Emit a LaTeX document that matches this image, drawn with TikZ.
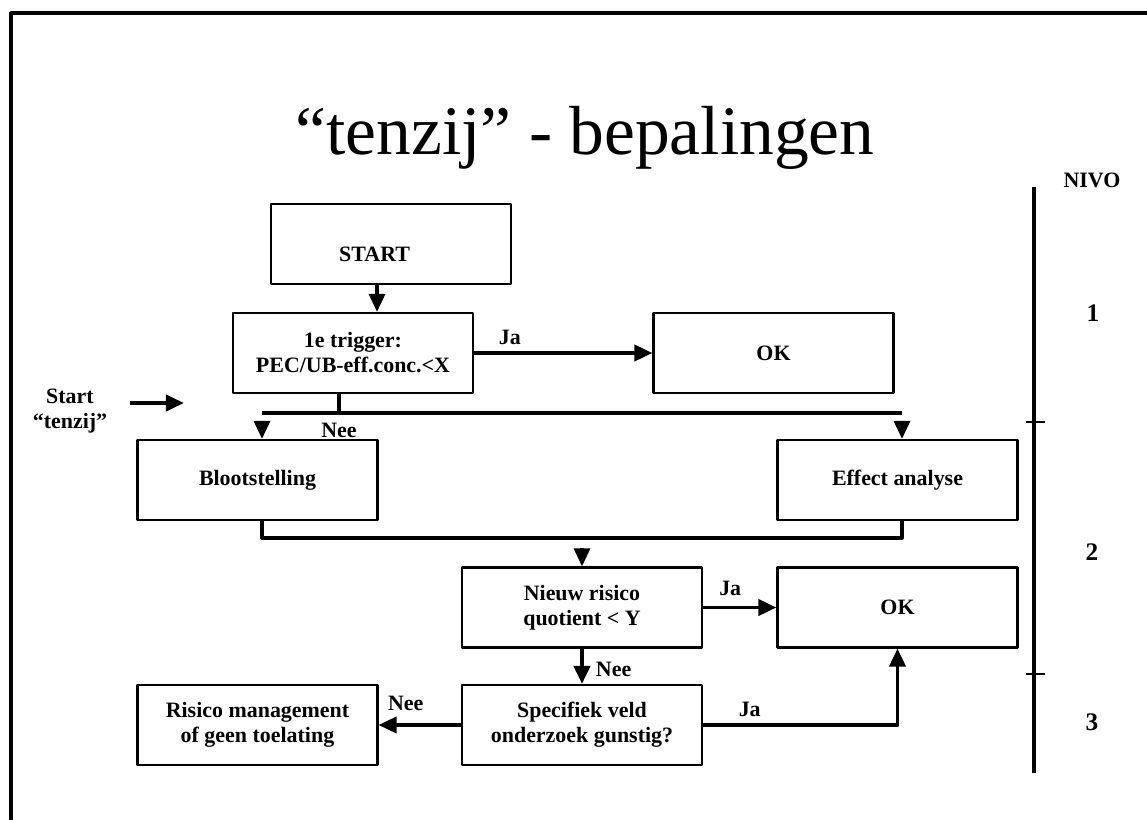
\documentclass[tikz,border=0pt]{standalone}
\usepackage{fontspec}
\setmainfont{Liberation Serif}
\usetikzlibrary{arrows.meta}
\begin{document}
\begin{tikzpicture}[x=0.025cm, y=-0.025cm, line join=round, >={Triangle[length=0.45cm,width=0.4cm]},
	font=\bfseries\fontsize{15.6}{17.8}\selectfont,
	box/.style={draw, line width=1.5pt, minimum width=6cm, minimum height=2cm, align=center, inner sep=0pt},
	bar/.style={line width=2.8pt},
	link/.style={line width=2.2pt},
	lbl/.style={inner sep=0pt}]
	\useasboundingbox (0,0) rectangle (1147,820);
	\draw[line width=2.2pt] (11,820)--(11,13)--(1147,13);
	\node[font=\mdseries\fontsize{49.4}{55}\selectfont, anchor=base] (title) at (585,155) {“tenzij” - bepalingen};
	\node[box, label={[xshift=-0.41cm, yshift=-0.26cm]center:START}] (start) at (391,244) {};
	\node[box] (trigger) at (353,353) {1e trigger:\\PEC/UB-eff.conc.<X};
	\node[box] (ok1) at (773.5,353) {OK};
	\node[box] (bloot) at (257.5,480) {Blootstelling};
	\node[box] (effect) at (897.5,480) {Effect analyse};
	\node[box] (nieuw) at (582,607.5) {Nieuw risico\\quotient < Y};
	\node[box] (ok2) at (897.5,607.5) {OK};
	\node[box] (spec) at (582,725) {Specifiek veld\\onderzoek gunstig?};
	\node[box] (risico) at (257.5,725) {Risico management\\of geen toelating};
	\node[align=center] (starttenzij) at (70,411) {Start\\“tenzij”};
	\node (nivo) at (1092,180) {NIVO};
	\node[font=\bfseries\fontsize{18}{20}\selectfont] (n1) at (1093,313) {1};
	\node[font=\bfseries\fontsize{18}{20}\selectfont] (n2) at (1092,552) {2};
	\node[font=\bfseries\fontsize{18}{20}\selectfont] (n3) at (1092,722) {3};
	\coordinate (splitL) at (262,413);
	\coordinate (splitR) at (902,413);
	\coordinate (join) at (582,538);
	\coordinate (entry) at (184,403);
	\draw[->, link] ([xshift=-0.35cm]start.south) -- ([xshift=-0.35cm]start.south |- trigger.north);
	\draw[->, bar] (trigger.east) -- node[lbl, pos=0.2, above=0.15cm]{Ja} (ok1.west);
	\draw[bar] ([xshift=-0.35cm]trigger.south) -- ([xshift=-0.35cm]trigger.south |- splitL) node[lbl, below=0.2cm]{Nee};
	\draw[bar] (splitL) -- (splitR);
	\draw[->, bar, shorten <=0.45cm] (starttenzij.east |- entry) -- (entry);
	\draw[->, link, shorten <=0.25cm] (splitL) -- (splitL |- bloot.north);
	\draw[->, link, shorten <=0.25cm] (splitR) -- (splitR |- effect.north);
	\draw[link] (bloot.south -| splitL) |- (join) -| (effect.south -| splitR);
	\draw[->, link, shorten <=0.25cm] (join) -- (nieuw.north);
	\draw[->, bar] (nieuw.east) -- node[lbl, pos=0.37, above=0.25cm]{Ja} (ok2.west);
	\draw[->, bar] (nieuw.south) -- node[lbl, pos=0.6, right=0.3cm]{Nee} (spec.north);
	\draw[->, bar] (spec.east) -| node[lbl, pos=0.12, above=0.15cm]{Ja} (ok2.south);
	\draw[->, bar] (spec.west) -- node[lbl, pos=0.67, above=0.3cm]{Nee} (risico.east);
	\draw[line width=2.2pt] (1034,187) -- (1034,773);
	\draw[line width=1.4pt] (1026,422) -- (1045,422) (1026,674) -- (1045,674);
\end{tikzpicture}
\end{document}
